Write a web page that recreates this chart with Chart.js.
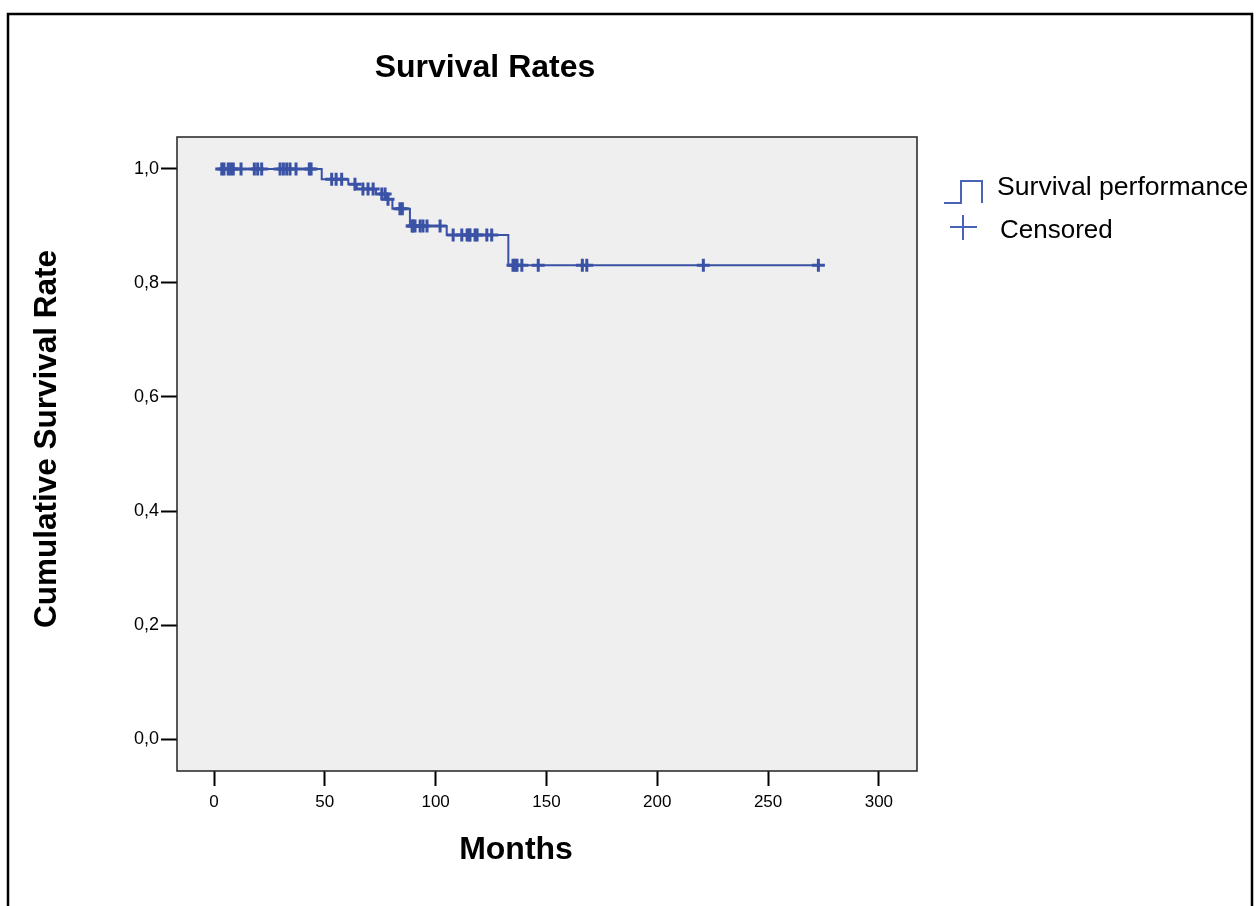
<!DOCTYPE html>
<html>
<head>
<meta charset="utf-8">
<script src="https://cdn.jsdelivr.net/npm/chart.js@4/dist/chart.umd.min.js"></script>
<style>
  html, body { margin: 0; padding: 0; background: #fff; }
</style>
</head>
<body>
<canvas id="km" width="1258" height="906"></canvas>
<script>
// Kaplan-Meier steps: month of each drop and survival right after it
const eventMonths = [1.2, 48.6, 60.6, 64.4, 73.1, 77.5, 80.5, 88.4, 105, 132.8, 272.7];
const survivalAfter = [1.0, 0.982, 0.973, 0.965, 0.956, 0.947, 0.93, 0.9, 0.884, 0.831, 0.831];

// censored observations (months)
const censoredMonths = [3.5, 4.5, 6.4, 7.5, 8.7, 12.2, 18.2, 19.7, 21.5, 29.8, 31.3, 32.8, 34.3, 37, 43, 43.8,
    53.1, 55.1, 57.6, 63.6, 67.2, 69.5, 71.8, 75.7, 77.2, 78.5, 83.9, 85,
    89.4, 89.8, 90.7, 93, 94.3, 96.1, 102,
    107.9, 111.8, 114.2, 115.1, 115.5, 117.8, 118.7, 123.1, 125.3,
    134.9, 135.8, 136.7, 138.9, 146.3, 166.2, 168.2, 220.8, 272.7];

const xTicks = [0, 50, 100, 150, 200, 250, 300];
const yTicks = [0, 0.2, 0.4, 0.6, 0.8, 1.0];

const BLUE = '#3a52a6';
const FONT = '"Liberation Sans", Arial, Helvetica, sans-serif';

// survival level at a given month, read from the step data
function survivalAt(m) {
    let s = survivalAfter[0];
    for (let i = 0; i < eventMonths.length; i++) {
        if (eventMonths[i] <= m) s = survivalAfter[i];
    }
    return s;
}

const curvePoints = eventMonths.map((m, i) => ({ x: m, y: survivalAfter[i] }));
const censorPoints = censoredMonths.map(m => ({ x: m, y: survivalAt(m) }));

// frame, plot background, titles and legend
const decorPlugin = {
    id: 'decor',
    beforeDraw(chart) {
        const ctx = chart.ctx;
        const a = chart.chartArea;
        ctx.save();
        ctx.fillStyle = '#fff';
        ctx.fillRect(0, 0, chart.width, chart.height);
        ctx.strokeStyle = '#000';
        ctx.lineWidth = 2.5;
        ctx.beginPath();
        ctx.moveTo(8, 920);
        ctx.lineTo(8, 14);
        ctx.lineTo(1252, 14);
        ctx.lineTo(1252, 920);
        ctx.stroke();
        ctx.fillStyle = '#efefef';
        ctx.fillRect(a.left, a.top, a.right - a.left, a.bottom - a.top);
        ctx.restore();
    },
    afterDraw(chart) {
        const ctx = chart.ctx;
        const a = chart.chartArea;
        ctx.save();
        ctx.strokeStyle = '#222';
        ctx.lineWidth = 1.5;
        ctx.strokeRect(a.left, a.top, a.right - a.left, a.bottom - a.top);

        ctx.fillStyle = '#000';
        ctx.textAlign = 'center';
        ctx.textBaseline = 'middle';
        ctx.font = 'bold 32px ' + FONT;
        ctx.fillText('Survival Rates', 485, 68);
        ctx.font = 'bold 32px ' + FONT;
        ctx.fillText('Months', 516, 850);
        ctx.save();
        ctx.translate(47, 439);
        ctx.rotate(-Math.PI / 2);
        ctx.font = 'bold 31.5px ' + FONT;
        ctx.fillText('Cumulative Survival Rate', 0, 0);
        ctx.restore();

        // legend
        ctx.strokeStyle = '#4b63b6';
        ctx.lineWidth = 2;
        ctx.beginPath();
        ctx.moveTo(944, 203);
        ctx.lineTo(961, 203);
        ctx.lineTo(961, 181);
        ctx.lineTo(982, 181);
        ctx.lineTo(982, 203);
        ctx.stroke();
        ctx.beginPath();
        ctx.moveTo(950, 227);
        ctx.lineTo(977, 227);
        ctx.moveTo(963, 215);
        ctx.lineTo(963, 240);
        ctx.stroke();
        ctx.fillStyle = '#000';
        ctx.textAlign = 'left';
        ctx.font = '26.6px ' + FONT;
        ctx.fillText('Survival performance', 997, 188);
        ctx.font = '26px ' + FONT;
        ctx.fillText('Censored', 1000, 231);
        ctx.restore();
    }
};

const ctx = document.getElementById('km').getContext('2d');
const config = {
    type: 'line',
    data: {
        datasets: [
            {
                label: 'Survival performance',
                data: curvePoints,
                borderColor: BLUE,
                borderWidth: 2,
                stepped: 'before',
                pointRadius: 0,
                fill: false
            },
            {
                label: 'Censored',
                data: censorPoints,
                showLine: false,
                pointStyle: 'cross',
                pointRadius: 6.5,
                borderColor: BLUE,
                borderWidth: 3
            }
        ]
    },
    options: {
        responsive: false,
        animation: false,
        layout: { padding: { left: 0, top: 137, right: 341, bottom: 75 } },
        plugins: {
            legend: { display: false },
            tooltip: { enabled: false }
        },
        scales: {
            x: {
                type: 'linear',
                min: -16.7,
                max: 317.2,
                afterFit(scale) { scale.height = 60; },
                afterBuildTicks(scale) { scale.ticks = xTicks.map(v => ({ value: v })); },
                grid: { drawOnChartArea: false, tickLength: 15, tickColor: '#000', tickWidth: 2 },
                border: { display: false },
                ticks: { color: '#000', font: { size: 17, family: FONT }, padding: 6, maxRotation: 0 }
            },
            y: {
                type: 'linear',
                min: -0.056,
                max: 1.056,
                afterFit(scale) { scale.width = 177; },
                afterBuildTicks(scale) { scale.ticks = yTicks.map(v => ({ value: v })); },
                grid: { drawOnChartArea: false, tickLength: 16, tickColor: '#000', tickWidth: 2 },
                border: { display: false },
                ticks: {
                    color: '#000',
                    font: { size: 18, family: FONT },
                    padding: 2,
                    callback: v => v.toFixed(1).replace('.', ',')
                }
            }
        }
    },
    plugins: [decorPlugin]
};

new Chart(ctx, config);
</script>
</body>
</html>
